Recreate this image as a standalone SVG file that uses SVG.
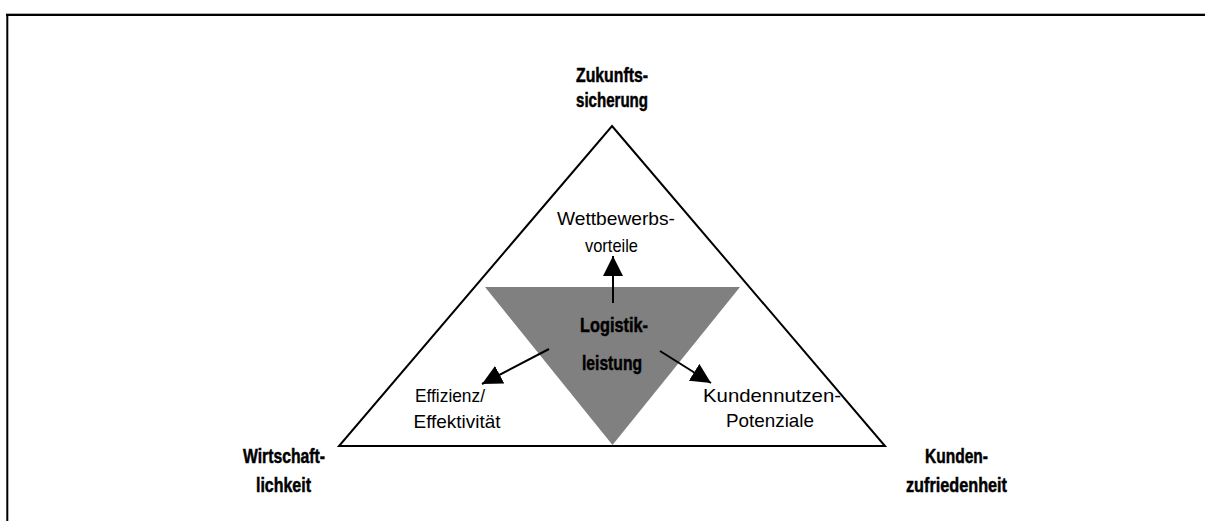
<svg xmlns="http://www.w3.org/2000/svg" width="1205" height="521" viewBox="0 0 1205 521">
  <style>
    .frame { stroke: #000; stroke-width: 2; fill: none; }
    .outer { fill: #fff; stroke: #000; stroke-width: 2; stroke-linejoin: miter; }
    .core { fill: #808080; stroke: none; }
    .lbl { font-family: "Liberation Sans", Arial, sans-serif; font-size: 18.5px; fill: #000; }
    .bold { font-family: "Liberation Sans", Arial, sans-serif; font-size: 20.5px; font-weight: bold; fill: #000; stroke: #000; stroke-width: 0.5; }
    .arrow { stroke: #000; stroke-width: 2; fill: none; }
  </style>
  <defs>
    <marker id="head" viewBox="0 0 20 20" refX="20" refY="10" markerWidth="20" markerHeight="20" markerUnits="userSpaceOnUse" orient="auto">
      <path d="M0,0 L20,10 L0,20 Z" fill="#000"/>
    </marker>
  </defs>

  <rect width="1205" height="521" fill="#fff"/>

  <!-- page frame: top and left rules -->
  <g id="frame">
    <line x1="6" y1="13.5" x2="1205" y2="13.5" stroke="#b0b0b0" stroke-width="1"/>
    <line x1="6" y1="15" x2="1205" y2="15" class="frame"/>
    <line x1="7.3" y1="14" x2="7.3" y2="521" class="frame"/>
  </g>

  <!-- outer triangle -->
  <g id="triangle">
    <polygon class="outer" points="612,126 885,446 339,446"/>
  </g>

  <!-- inverted grey triangle -->
  <g id="logistikleistung">
    <polygon class="core" points="485,287 740,287 612.5,445"/>
    <text class="bold" x="614" y="332" text-anchor="middle" textLength="68" lengthAdjust="spacingAndGlyphs">Logistik-</text>
    <text class="bold" x="612" y="370" text-anchor="middle" textLength="60" lengthAdjust="spacingAndGlyphs">leistung</text>
  </g>

  <!-- corner labels -->
  <g id="zukunftssicherung">
    <text class="bold" x="612" y="82" text-anchor="middle" textLength="72" lengthAdjust="spacingAndGlyphs">Zukunfts-</text>
    <text class="bold" x="612" y="107" text-anchor="middle" textLength="72" lengthAdjust="spacingAndGlyphs">sicherung</text>
  </g>
  <g id="wirtschaftlichkeit">
    <text class="bold" x="284" y="463" text-anchor="middle" textLength="82" lengthAdjust="spacingAndGlyphs">Wirtschaft-</text>
    <text class="bold" x="283.5" y="492" text-anchor="middle" textLength="55" lengthAdjust="spacingAndGlyphs">lichkeit</text>
  </g>
  <g id="kundenzufriedenheit">
    <text class="bold" x="956.5" y="463" text-anchor="middle" textLength="63" lengthAdjust="spacingAndGlyphs">Kunden-</text>
    <text class="bold" x="956.5" y="492" text-anchor="middle" textLength="101" lengthAdjust="spacingAndGlyphs">zufriedenheit</text>
  </g>

  <!-- inner labels -->
  <g id="wettbewerbsvorteile">
    <text class="lbl" x="616" y="225" text-anchor="middle" textLength="118" lengthAdjust="spacingAndGlyphs">Wettbewerbs-</text>
    <text class="lbl" x="611.5" y="251.5" text-anchor="middle" textLength="53" lengthAdjust="spacingAndGlyphs">vorteile</text>
  </g>
  <g id="effizienz">
    <text class="lbl" x="450" y="402" text-anchor="middle" textLength="70" lengthAdjust="spacingAndGlyphs">Effizienz/</text>
    <text class="lbl" x="457" y="428" text-anchor="middle" textLength="87" lengthAdjust="spacingAndGlyphs">Effektivität</text>
  </g>
  <g id="kundennutzen">
    <text class="lbl" x="772" y="402" text-anchor="middle" textLength="138" lengthAdjust="spacingAndGlyphs">Kundennutzen-</text>
    <text class="lbl" x="770" y="427" text-anchor="middle" textLength="88" lengthAdjust="spacingAndGlyphs">Potenziale</text>
  </g>

  <!-- connectors -->
  <g id="connectors">
    <line class="arrow" x1="613" y1="303" x2="613" y2="256" marker-end="url(#head)"/>
    <line class="arrow" x1="549" y1="349" x2="482" y2="384" marker-end="url(#head)"/>
    <line class="arrow" x1="660" y1="351" x2="711" y2="383" marker-end="url(#head)"/>
  </g>
</svg>
